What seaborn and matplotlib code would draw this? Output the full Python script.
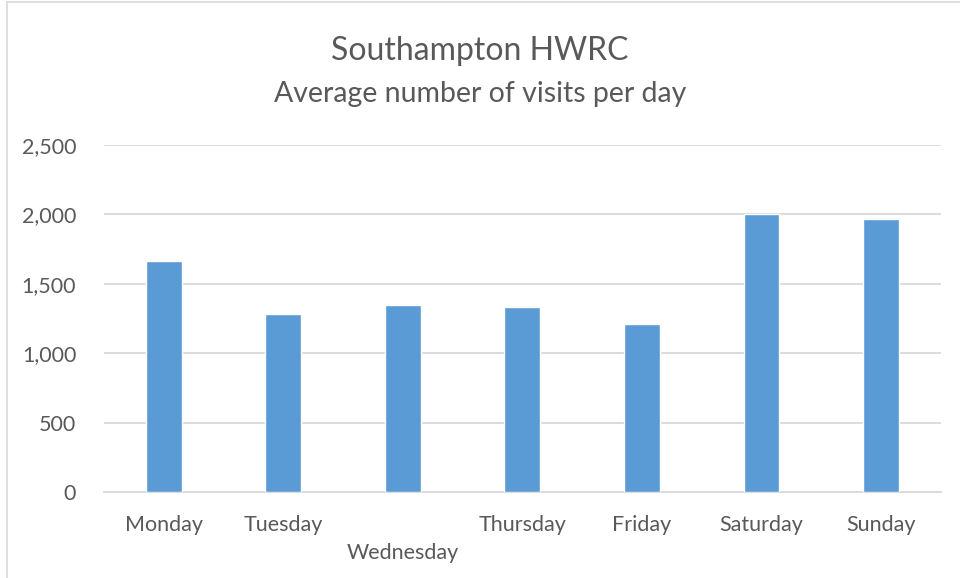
import matplotlib
matplotlib.use("Agg")
import matplotlib.pyplot as plt
import pandas as pd
import seaborn as sns

days = ["Monday", "Tuesday", "Wednesday", "Thursday", "Friday", "Saturday", "Sunday"]
visits = [1660, 1280, 1345, 1330, 1210, 2000, 1965]
tick_labels = ["Monday", "Tuesday", "\nWednesday", "Thursday", "Friday", "Saturday", "Sunday"]

df = pd.DataFrame({"day": days, "visits": visits})

sns.set_theme(style="white")
plt.rcParams["font.family"] = ["Lato", "DejaVu Sans"]

text_color = "#595959"
grid_color = "#D9D9D9"

fig = plt.figure(figsize=(9.6, 5.78), dpi=100)
ax = fig.add_axes([0.1083, 0.1483, 0.8717, 0.6014])

sns.barplot(data=df, x="day", y="visits", color="#5B9BD5", width=0.30,
            saturation=1, ax=ax, zorder=3)

ax.set_ylim(0, 2500)
ax.set_yticks([0, 500, 1000, 1500, 2000, 2500])
ax.set_yticklabels([f"{v:,}" for v in [0, 500, 1000, 1500, 2000, 2500]])
ax.set_xticks(range(len(days)))
ax.set_xticklabels(tick_labels, linespacing=1.55)
ax.set_xlim(-0.5, len(days) - 0.5)
ax.yaxis.grid(True, color=grid_color, linewidth=1.3, zorder=0)
ax.xaxis.grid(False)
for side in ["top", "right", "left"]:
    ax.spines[side].set_visible(False)
ax.spines["bottom"].set_color(grid_color)
ax.spines["bottom"].set_linewidth(1.3)
ax.tick_params(axis="both", length=0, labelsize=15.5, colors=text_color)
ax.tick_params(axis="y", pad=20)
ax.tick_params(axis="x", pad=16)
ax.set_xlabel("")
ax.set_ylabel("")

fig.text(0.5, 0.912, "Southampton HWRC", ha="center", va="center",
         fontsize=23, color=text_color)
fig.text(0.5, 0.838, "Average number of visits per day", ha="center", va="center",
         fontsize=20.5, color=text_color)

# chart frame edges
fig.add_artist(plt.Line2D([0.0075, 0.0075], [0, 0.997], color=grid_color, linewidth=1.2))
fig.add_artist(plt.Line2D([0.0075, 1], [0.997, 0.997], color=grid_color, linewidth=1.2))

fig.savefig("out.png", dpi=100)
